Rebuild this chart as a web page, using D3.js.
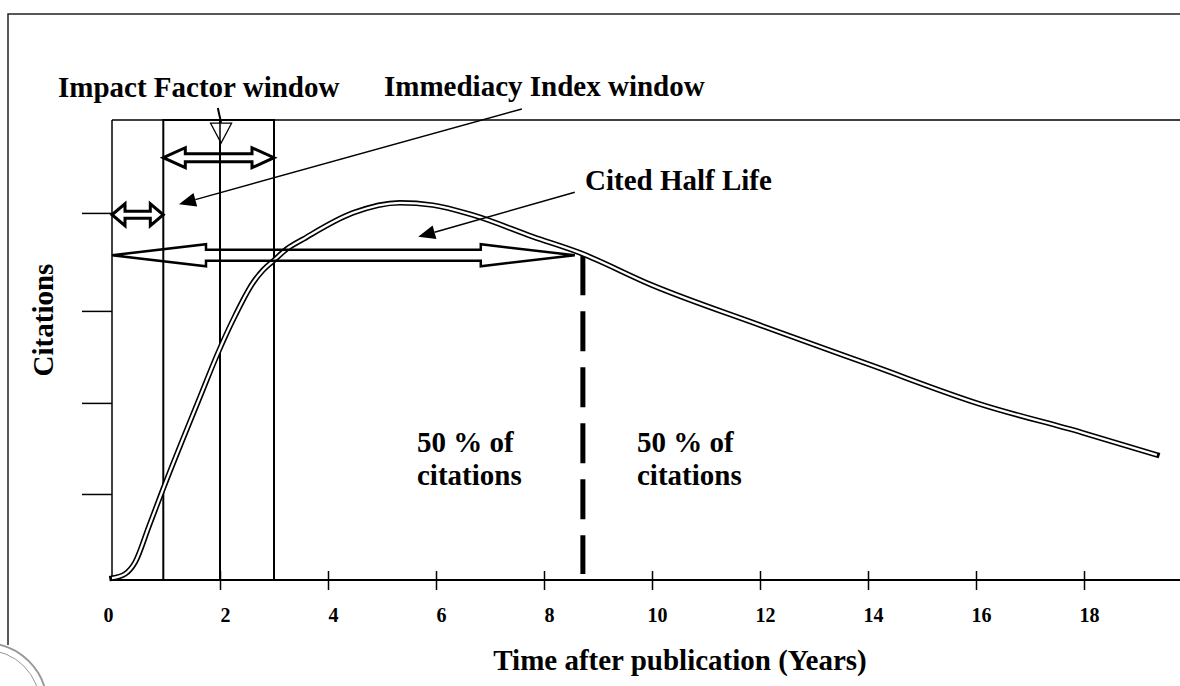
<!DOCTYPE html>
<html><head><meta charset="utf-8">
<script src="https://cdn.jsdelivr.net/npm/d3@7"></script>
<style>
body{margin:0;background:#fff}
svg{display:block}
text{font-family:"Liberation Serif","Times New Roman",serif;font-weight:bold;fill:#000}
</style>
</head><body>
<svg id="c" width="1180" height="686"></svg>
<script>
// ---- data ----
const years     = [0, 0.24, 0.43, 0.685, 0.94, 1.63, 1.96, 2.24, 2.61, 2.80, 2.98, 3.24, 3.54, 4.46, 5.33, 5.94, 6.69, 7.80, 8.67, 10.0, 12.0, 14.06, 16.06, 17.98, 19.35];
const citations = [0.4, 1.3, 3.9, 11.7, 19.6, 39.8, 49.3, 56.5, 64.6, 67.4, 69.3, 72.0, 74.1, 79.8, 82.0, 81.5, 79.3, 74.6, 71.1, 64.1, 55.4, 46.7, 38.3, 32.0, 27.2];
const xTicks = [0, 2, 4, 6, 8, 10, 12, 14, 16, 18];
const xTickLabels = ["0", "2", "4", "6", "8", "10", "12", "14", "16", "18"];
const yTicks = [18.7, 38.5, 58.5, 79.8];
const ifWindow = [0.95, 3];
const ifMid = 2;
const iiWindow = [0, 0.95];
const halfLife = 8.72;
const halfLifeArrowEnd = 8.57;
const halfLifeLevel = 70.6;
const ifArrowLevel = 91.8;
const iiArrowLevel = 79.4;

const svg = d3.select("#c");
const x = d3.scaleLinear().domain([0, 18]).range([112, 1084]);
const y = d3.scaleLinear().domain([0, 100]).range([580, 120]);
const W = 1180;

// outer frame
svg.append("path").attr("d", `M8,645 L8,14 L${W},14`).attr("fill", "none").attr("stroke", "#222").attr("stroke-width", 1.5);

// seal stamp (partial)
const seal = svg.append("g").attr("fill", "none").attr("stroke", "#999");
seal.append("circle").attr("cx", -15).attr("cy", 705).attr("r", 62).attr("stroke-width", 2);
seal.append("circle").attr("cx", -15).attr("cy", 705).attr("r", 55).attr("stroke-width", 1);

// top line of plot box and y axis line
svg.append("line").attr("x1", x(0)).attr("x2", W).attr("y1", y(100)).attr("y2", y(100)).attr("stroke", "#000").attr("stroke-width", 1.5);
svg.append("line").attr("x1", x(0)).attr("x2", x(0)).attr("y1", y(100)).attr("y2", y(0)).attr("stroke", "#000").attr("stroke-width", 1.5);

// impact factor window box
svg.append("rect").attr("x", x(ifWindow[0])).attr("y", y(100))
  .attr("width", x(ifWindow[1]) - x(ifWindow[0])).attr("height", y(0) - y(100))
  .attr("fill", "none").attr("stroke", "#000").attr("stroke-width", 2);
svg.append("line").attr("x1", x(ifMid)).attr("x2", x(ifMid)).attr("y1", y(100)).attr("y2", y(0)).attr("stroke", "#000").attr("stroke-width", 2);

// y ticks (to the left)
const yAxis = d3.axisLeft(y).tickValues(yTicks).tickSize(30).tickFormat("");
const gy = svg.append("g").attr("transform", `translate(${x(0)},0)`).call(yAxis);
gy.select(".domain").remove();
gy.selectAll(".tick line").attr("stroke", "#000").attr("stroke-width", 1.5);

// x axis
const xAxis = d3.axisBottom(x).tickValues(xTicks).tickSize(10).tickFormat((d, i) => xTickLabels[i]);
const gx = svg.append("g").attr("transform", `translate(0,${y(0)})`).call(xAxis);
gx.select(".domain").remove();
svg.append("line").attr("x1", x(0)).attr("x2", W).attr("y1", y(0)).attr("y2", y(0)).attr("stroke", "#000").attr("stroke-width", 2);
gx.selectAll(".tick line").attr("y1", -9).attr("y2", 10).attr("stroke", "#000").attr("stroke-width", 1.5)
  .filter(d => d === 0).remove();
gx.selectAll(".tick text").attr("font-size", 20).attr("font-family", "Liberation Serif, serif")
  .attr("font-weight", "bold").attr("fill", "#000").attr("text-anchor", "middle")
  .attr("dx", d => d === 0 ? -4 : 5).attr("y", 42).attr("dy", 0);

// dashed half-life line
svg.append("line").attr("x1", x(halfLife)).attr("x2", x(halfLife))
  .attr("y1", y(halfLifeLevel)).attr("y2", y(0) - 6)
  .attr("stroke", "#000").attr("stroke-width", 5).attr("stroke-dasharray", "40,16");

// citation curve (double line)
const pts = years.map((d, i) => [d, citations[i]]);
const line = d3.line().x(d => x(d[0])).y(d => y(d[1])).curve(d3.curveMonotoneX);
svg.append("path").attr("d", line(pts)).attr("fill", "none").attr("stroke", "#000").attr("stroke-width", 5.5).attr("stroke-linecap", "square");
svg.append("path").attr("d", line(pts)).attr("fill", "none").attr("stroke", "#fff").attr("stroke-width", 2.3);

// double arrows
function dblArrow(x1, x2, cy, hl, hh, sh) {
  return `M${x1},${cy} L${x1 + hl},${cy - hh} L${x1 + hl},${cy - sh} L${x2 - hl},${cy - sh} L${x2 - hl},${cy - hh} L${x2},${cy} L${x2 - hl},${cy + hh} L${x2 - hl},${cy + sh} L${x1 + hl},${cy + sh} L${x1 + hl},${cy + hh} Z`;
}
svg.append("path").attr("d", dblArrow(x(0), x(halfLifeArrowEnd), y(halfLifeLevel), 94, 11, 5.5))
  .attr("fill", "none").attr("stroke", "#000").attr("stroke-width", 2.5).attr("stroke-linejoin", "miter");
svg.append("path").attr("d", dblArrow(x(ifWindow[0]), x(ifWindow[1]), y(ifArrowLevel), 22, 10, 4))
  .attr("fill", "none").attr("stroke", "#000").attr("stroke-width", 3);
svg.append("path").attr("d", dblArrow(x(iiWindow[0]), x(iiWindow[1]), y(iiArrowLevel), 13, 11, 3.5))
  .attr("fill", "none").attr("stroke", "#000").attr("stroke-width", 3);

// pointer arrows
function pointer(a, b) {
  const x1 = x(a[0]), y1 = y(a[1]), x2 = x(b[0]), y2 = y(b[1]);
  const ang = Math.atan2(y2 - y1, x2 - x1);
  const L = 17, H = 7;
  const bx = x2 - L * Math.cos(ang), by = y2 - L * Math.sin(ang);
  svg.append("line").attr("x1", x1).attr("y1", y1).attr("x2", bx).attr("y2", by).attr("stroke", "#000").attr("stroke-width", 1.5);
  svg.append("path").attr("d", `M${x2},${y2} L${bx - H * Math.sin(ang)},${by + H * Math.cos(ang)} L${bx + H * Math.sin(ang)},${by - H * Math.cos(ang)} Z`).attr("fill", "#000");
}
pointer([7.59, 102.4], [1.24, 81.7]);
pointer([8.57, 84.3], [5.67, 74.6]);

// impact factor pointer with hollow triangle
svg.append("line").attr("x1", x(1.96)).attr("y1", y(102.6)).attr("x2", x(2.02)).attr("y2", y(99.4)).attr("stroke", "#000").attr("stroke-width", 2);
svg.append("path").attr("d", `M${x(2.02) - 10.5},${y(99.3)} L${x(2.02) + 10.5},${y(99.3)} L${x(2.02)},${y(95.0)} Z`)
  .attr("fill", "#fff").attr("stroke", "#000").attr("stroke-width", 1.3);
svg.append("line").attr("x1", x(ifMid)).attr("x2", x(ifMid)).attr("y1", y(99.3)).attr("y2", y(95)).attr("stroke", "#000").attr("stroke-width", 1.5);

// texts
function txt(s, tx, ty, size, anchor) {
  return svg.append("text").attr("x", tx).attr("y", ty).attr("font-size", size).attr("text-anchor", anchor || "start").text(s);
}
txt("Impact Factor window", 58, 97, 29);
txt("Immediacy Index window", 384, 96, 29);
txt("Cited Half Life", 585, 190, 29);
txt("50 % of", 417, 452, 29);
txt("citations", 417, 485, 29);
txt("50 % of", 637, 452, 29);
txt("citations", 637, 485, 29);
txt("Time after publication (Years)", 680, 670, 29, "middle");
svg.append("text").attr("transform", "translate(53,320) rotate(-90)").attr("font-size", 29).attr("text-anchor", "middle").text("Citations");
</script>
</body></html>
